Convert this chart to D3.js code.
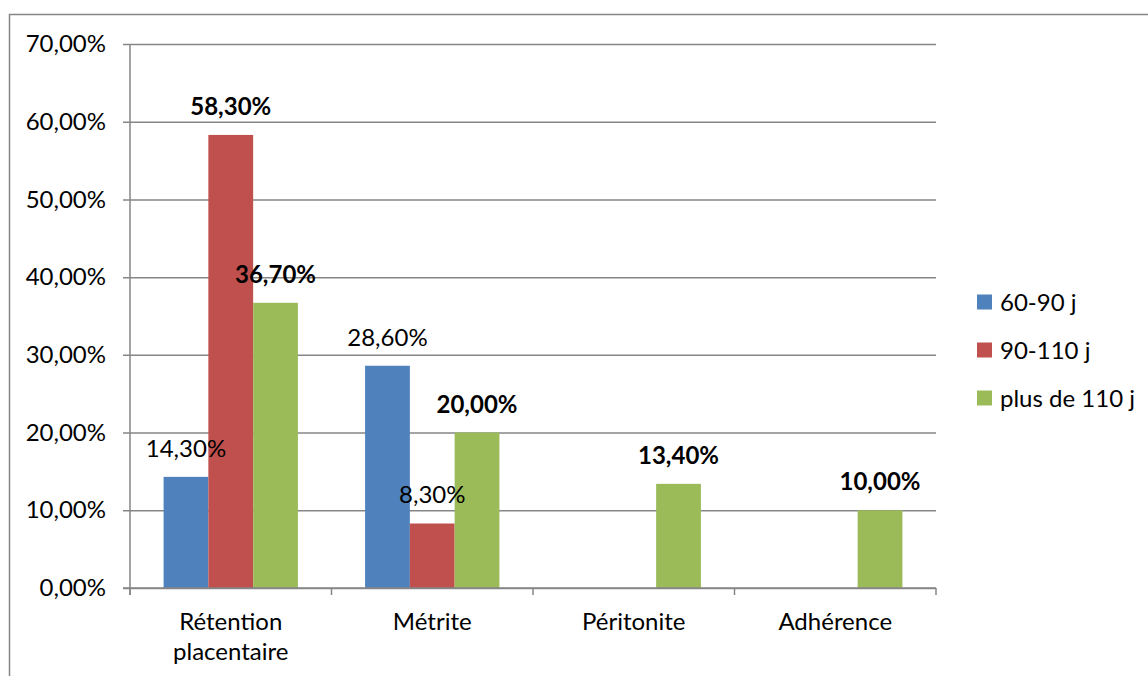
<!DOCTYPE html>
<html>
<head>
<meta charset="utf-8">
<script src="https://cdn.jsdelivr.net/npm/d3@7"></script>
<style>
  html, body { margin: 0; padding: 0; background: #fff; }
  svg { display: block; }
  text { font-family: Lato, "Liberation Sans", sans-serif; fill: #000; }
</style>
</head>
<body>
<svg id="chart" width="1148" height="676"></svg>
<script>
// Categories (x axis) — the first one wraps onto two lines
const categories = [["Rétention", "placentaire"], ["Métrite"], ["Péritonite"], ["Adhérence"]];
const seriesNames = ["60-90 j", "90-110 j", "plus de 110 j"];
// Values in percent; null = no bar
const s6090 = [14.3, 28.6, null, null];
const s90110 = [58.3, 8.3, null, null];
const s110 = [36.7, 20.0, 13.4, 10.0];
const yTicks = [0, 10, 20, 30, 40, 50, 60, 70];

const seriesValues = [s6090, s90110, s110];
const colors = ["#4F81BD", "#C0504D", "#9BBB59"];
// value labels drawn in bold: "series-category"
const boldKeys = new Set(["1-0", "2-0", "2-1", "2-2", "2-3"]);

const fmt = v => v.toFixed(2).replace(".", ",") + "%";

const svg = d3.select("#chart");
const plotL = 130, plotR = 936, plotT = 44, plotB = 588;
const gridColor = "#868686";
const fontSize = 24;

// outer chart frame
svg.append("rect")
  .attr("x", 9.5).attr("y", 14.5)
  .attr("width", 1300).attr("height", 800)
  .attr("fill", "none").attr("stroke", gridColor).attr("stroke-width", 1.5);

const y = d3.scaleLinear().domain([0, 70]).range([plotB, plotT]);
const catKeys = categories.map(c => c.join(" "));
const x0 = d3.scaleBand().domain(catKeys).range([plotL, plotR]).padding(0);
const bw = x0.bandwidth() / 4.5;
const x1 = d3.scaleBand().domain(seriesNames)
  .range([0.75 * bw, x0.bandwidth() - 0.75 * bw]).padding(0);

// gridlines + y ticks
const yAxis = d3.axisLeft(y).tickValues(yTicks)
  .tickSize(-(plotR - plotL)).tickPadding(24)
  .tickFormat(fmt);
const yg = svg.append("g").attr("transform", `translate(${plotL},0)`).call(yAxis);
yg.select(".domain").remove();
yg.selectAll(".tick line").attr("stroke", gridColor).attr("stroke-width", 1.5).attr("x1", -7);
yg.selectAll(".tick text").attr("font-size", fontSize)
  .attr("font-family", "Lato, 'Liberation Sans', sans-serif").attr("fill", "#000");

// bars
seriesValues.forEach((vals, si) => {
  svg.append("g").selectAll("rect")
    .data(vals.map((v, ci) => ({ v, ci })).filter(d => d.v !== null))
    .join("rect")
    .attr("x", d => x0(catKeys[d.ci]) + x1(seriesNames[si]))
    .attr("y", d => y(d.v))
    .attr("width", x1.bandwidth())
    .attr("height", d => y(0) - y(d.v))
    .attr("fill", colors[si]);
});

// y axis line
svg.append("line").attr("x1", plotL).attr("x2", plotL).attr("y1", plotT).attr("y2", plotB + 7)
  .attr("stroke", gridColor).attr("stroke-width", 1.5);
// x axis line and category ticks
svg.append("line").attr("x1", plotL - 7).attr("x2", plotR).attr("y1", plotB).attr("y2", plotB)
  .attr("stroke", gridColor).attr("stroke-width", 1.5);
const bounds = catKeys.map(k => x0(k)).concat([plotR]);
svg.append("g").selectAll("line").data(bounds).join("line")
  .attr("x1", d => d).attr("x2", d => d).attr("y1", plotB).attr("y2", plotB + 7)
  .attr("stroke", gridColor).attr("stroke-width", 1.5);

// category labels
const cl = svg.append("g").selectAll("text").data(categories).join("text")
  .attr("x", (d, i) => x0(catKeys[i]) + x0.bandwidth() / 2)
  .attr("y", 630).attr("text-anchor", "middle").attr("font-size", fontSize);
cl.selectAll("tspan").data(d => d).join("tspan")
  .attr("x", function () { return this.parentNode.getAttribute("x"); })
  .attr("dy", (d, i) => i === 0 ? 0 : 30)
  .text(d => d);

// value labels
seriesValues.forEach((vals, si) => {
  svg.append("g").selectAll("text")
    .data(vals.map((v, ci) => ({ v, ci })).filter(d => d.v !== null))
    .join("text")
    .attr("x", d => x0(catKeys[d.ci]) + x1(seriesNames[si]) + x1.bandwidth() / 2)
    .attr("y", d => y(d.v) - 20)
    .attr("text-anchor", "middle")
    .attr("font-size", fontSize)
    .attr("font-weight", d => boldKeys.has(si + "-" + d.ci) ? "bold" : "normal")
    .text(d => fmt(d.v));
});

// legend
const lg = svg.append("g").selectAll("g").data(seriesNames).join("g")
  .attr("transform", (d, i) => `translate(977,${302 + i * 48})`);
lg.append("rect").attr("x", 0).attr("y", -7.5).attr("width", 15).attr("height", 15)
  .attr("fill", (d, i) => colors[i]);
lg.append("text").attr("x", 23).attr("y", 8.5).attr("font-size", fontSize).text(d => d);
</script>
</body>
</html>
